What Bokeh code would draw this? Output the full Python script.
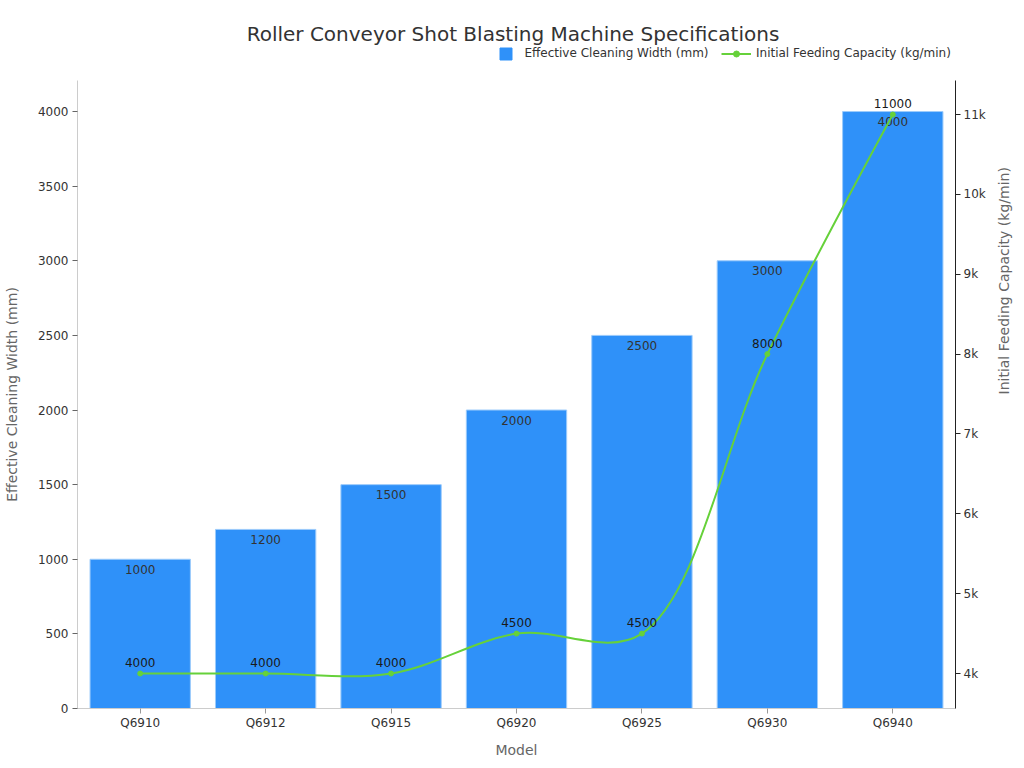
import math
from bokeh.plotting import figure
from bokeh.layouts import column
from bokeh.models import (ColumnDataSource, Range1d, LinearAxis, FactorRange, Legend,
                          LegendItem, NumeralTickFormatter, FixedTicker, Label)
from bokeh.core.properties import value
from bokeh.embed import file_html
from bokeh.resources import INLINE

models = ["Q6910", "Q6912", "Q6915", "Q6920", "Q6925", "Q6930", "Q6940"]
cleaning_width = [1000, 1200, 1500, 2000, 2500, 3000, 4000]
feeding_capacity = [4000, 4000, 4000, 4500, 4500, 8000, 11000]
left_ticks = [0, 500, 1000, 1500, 2000, 2500, 3000, 3500, 4000]
right_ticks = [4000, 5000, 6000, 7000, 8000, 9000, 10000, 11000]
title_text = "Roller Conveyor Shot Blasting Machine Specifications"
series_names = ["Effective Cleaning Width (mm)", "Initial Feeding Capacity (kg/min)"]

FONT = "DejaVu Sans"
BAR = "#2f91f9"
GREEN = "#66d13a"
HEAD_H = 66
FW, FH = 879, 628
BL, BR, BT, BB = 76, 67, 14, 52
W = BL + FW + BR
LEFT_MAX = 4208
R_MIN, R_MAX = 3562, 11426
NAN = float("nan")

# ---------------- header: title + legend ----------------
head = figure(width=W, height=HEAD_H, x_range=Range1d(BL, BL + FW), y_range=Range1d(0, HEAD_H),
              x_axis_type=None, y_axis_type=None, output_backend="svg", toolbar_location=None,
              min_border=0)
head.xgrid.visible = False
head.ygrid.visible = False
head.outline_line_color = None
head.add_layout(Label(x=512, y=HEAD_H - 33, text=title_text, text_align="center",
                      text_baseline="middle", text_font=FONT, text_font_size="20px",
                      text_color="#333333"))
d_bar = head.vbar(x=[NAN], top=[NAN], width=1, fill_color=BAR, line_color=BAR)
d_line = head.line(x=[NAN, NAN], y=[NAN, NAN], line_color=GREEN, line_width=2)
d_pt = head.scatter(x=[NAN], y=[NAN], size=5, fill_color=GREEN, line_color=GREEN)

def style_legend(lg):
    lg.orientation = "horizontal"
    lg.padding = 0
    lg.margin = 0
    lg.spacing = 0
    lg.border_line_color = None
    lg.background_fill_alpha = 0
    lg.label_text_font = FONT
    lg.label_text_font_size = "12px"
    lg.label_text_color = "#333333"
    lg.label_height = 15
    lg.glyph_height = 15

lg1 = Legend(items=[LegendItem(label=series_names[0], renderers=[d_bar])],
             location=(420.5, HEAD_H - 45.5 - 15))
style_legend(lg1)
lg1.glyph_width = 15
lg1.label_standoff = 12
head.add_layout(lg1, "center")

lg2 = Legend(items=[LegendItem(label=series_names[1], renderers=[d_line, d_pt])],
             location=(644, HEAD_H - 45.5 - 15))
style_legend(lg2)
lg2.glyph_width = 30
lg2.label_standoff = 5
head.add_layout(lg2, "center")

# ---------------- main chart ----------------
p = figure(x_range=FactorRange(*models), y_range=Range1d(0, LEFT_MAX),
           width=W, height=BT + FH + BB, output_backend="svg", toolbar_location=None,
           min_border_left=BL, min_border_right=BR, min_border_top=BT, min_border_bottom=BB)
p.extra_y_ranges = {"right": Range1d(R_MIN, R_MAX)}
p.xgrid.visible = False
p.ygrid.visible = False
p.outline_line_color = None

bar_src = ColumnDataSource(dict(x=models, y=cleaning_width, t=[str(v) for v in cleaning_width]))
p.vbar(x="x", top="y", width=0.8, source=bar_src, fill_color=BAR, line_color="#9ccbfb", line_width=1)
p.text(x="x", y="y", text="t", source=bar_src, y_offset=10, text_align="center",
       text_baseline="middle", text_font=value(FONT), text_font_size="12px", text_color="#333333")

# smooth line: centripetal Catmull-Rom (alpha 0.5) through the data points,
# parameterised in screen space, drawn as cubic Bezier segments
n = len(models)
sx_per = FW / n
sy_per = FH / (R_MAX - R_MIN)
P = [((i + 0.5) * sx_per, (v - R_MIN) * sy_per) for i, v in enumerate(feeding_capacity)]

def dist_a(a, b):
    d = math.hypot(a[0] - b[0], a[1] - b[1])
    return math.sqrt(d), d

x0s, y0s, x1s, y1s, cx0, cy0, cx1, cy1 = [], [], [], [], [], [], [], []
for i in range(n - 1):
    S, E = P[i], P[i + 1]
    l12_a, l12_2a = dist_a(S, E)
    if i > 0:
        A = P[i - 1]
        l01_a, l01_2a = dist_a(A, S)
        a = 2 * l01_2a + 3 * l01_a * l12_a + l12_2a
        nn = 3 * l01_a * (l01_a + l12_a)
        c1 = ((S[0] * a - A[0] * l12_2a + E[0] * l01_2a) / nn,
              (S[1] * a - A[1] * l12_2a + E[1] * l01_2a) / nn)
    else:
        c1 = S
    if i + 2 < n:
        N = P[i + 2]
        l23_a, l23_2a = dist_a(E, N)
        b = 2 * l23_2a + 3 * l23_a * l12_a + l12_2a
        m = 3 * l23_a * (l23_a + l12_a)
        c2 = ((E[0] * b + S[0] * l23_2a - N[0] * l12_2a) / m,
              (E[1] * b + S[1] * l23_2a - N[1] * l12_2a) / m)
    else:
        c2 = E
    x0s.append(S[0] / sx_per); y0s.append(R_MIN + S[1] / sy_per)
    x1s.append(E[0] / sx_per); y1s.append(R_MIN + E[1] / sy_per)
    cx0.append(c1[0] / sx_per); cy0.append(R_MIN + c1[1] / sy_per)
    cx1.append(c2[0] / sx_per); cy1.append(R_MIN + c2[1] / sy_per)

p.bezier(x0=x0s, y0=y0s, x1=x1s, y1=y1s, cx0=cx0, cy0=cy0, cx1=cx1, cy1=cy1,
         line_color=GREEN, line_width=2, y_range_name="right")
line_src = ColumnDataSource(dict(x=models, y=feeding_capacity, t=[str(v) for v in feeding_capacity]))
p.scatter(x="x", y="y", source=line_src, size=5, fill_color=GREEN, line_color=GREEN, y_range_name="right")
p.text(x="x", y="y", text="t", source=line_src, y_offset=-11, text_align="center",
       text_baseline="middle", text_font=value(FONT), text_font_size="12px", text_color="#1a1a1a",
       y_range_name="right")

def style_axis(ax, line_col, tick_col):
    ax.axis_line_color = line_col
    ax.major_tick_line_color = tick_col
    ax.major_tick_out = 5
    ax.major_tick_in = 0
    ax.minor_tick_line_color = None
    ax.major_label_text_font = FONT
    ax.major_label_text_font_size = "12px"
    ax.major_label_text_color = "#333333"
    ax.axis_label_text_font = FONT
    ax.axis_label_text_font_size = "14px"
    ax.axis_label_text_font_style = "normal"
    ax.axis_label_text_color = "#666666"

style_axis(p.xaxis[0], "#cccccc", "#999999")
style_axis(p.yaxis[0], "#cccccc", "#666666")
p.xaxis[0].axis_label = "Model"
p.xaxis[0].major_label_standoff = 2
p.xaxis[0].axis_label_standoff = 9
p.yaxis[0].axis_label = "Effective Cleaning Width (mm)"
p.yaxis[0].major_label_standoff = 4
p.yaxis[0].axis_label_standoff = 15
p.yaxis[0].ticker = FixedTicker(ticks=left_ticks)

ra = LinearAxis(y_range_name="right", axis_label="Initial Feeding Capacity (kg/min)")
ra.ticker = FixedTicker(ticks=right_ticks)
ra.formatter = NumeralTickFormatter(format="0a")
style_axis(ra, "#222222", "#222222")
ra.major_label_standoff = 3
ra.axis_label_standoff = 15
if "axis_label_orientation" in ra.properties():
    ra.axis_label_orientation = math.pi / 2
p.add_layout(ra, "right")

layout = column(head, p, spacing=0)
open("out.html", "w").write(file_html(layout, INLINE))
